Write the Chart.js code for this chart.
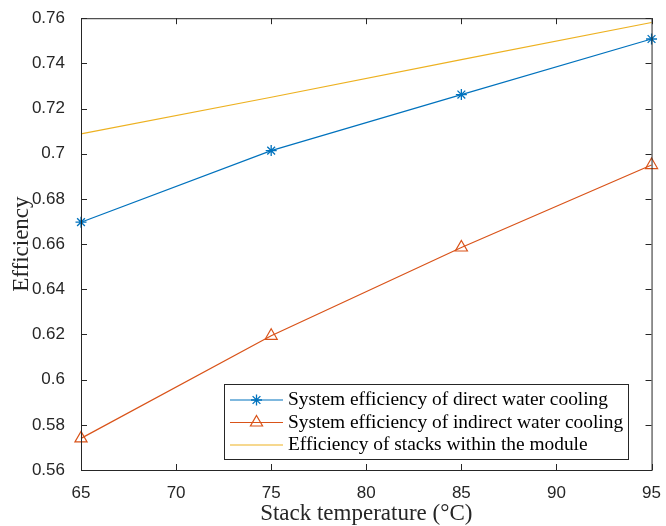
<!DOCTYPE html>
<html>
<head>
<meta charset="utf-8">
<script src="https://cdn.jsdelivr.net/npm/chart.js@4.4.1/dist/chart.umd.min.js"></script>
<style>
  html, body { margin: 0; padding: 0; background: #fff; }
  #wrap { width: 666px; height: 526px; }
</style>
</head>
<body>
<div id="wrap"><canvas id="effChart" width="666" height="526"></canvas></div>
<script>
// stack temperature (°C) and efficiency of each configuration
const temperatures = [65, 75, 85, 95];
const directCooling = [0.6697, 0.7014, 0.7262, 0.7508];
const indirectCooling = [0.5740, 0.6194, 0.6585, 0.6950];
const stackEfficiency = [0.7088, 0.7250, 0.7417, 0.7581];

const seriesLabels = [
  'System efficiency of direct water cooling',
  'System efficiency of indirect water cooling',
  'Efficiency of stacks within the module'
];

const xTickValues = [65, 70, 75, 80, 85, 90, 95];
const yTickValues = [0.56, 0.58, 0.6, 0.62, 0.64, 0.66, 0.68, 0.7, 0.72, 0.74, 0.76];

const axisColor = '#262626';
const blue = '#0072BD';
const orange = '#D95319';
const yellow = '#EDB120';

function toPoints(values) {
  return temperatures.map((t, i) => ({ x: t, y: values[i] }));
}

// axes box with inward tick marks on all four sides
const boxAndTicks = {
  id: 'boxAndTicks',
  afterDatasetsDraw(chart) {
    const { ctx, chartArea: a, scales: { x, y } } = chart;
    const len = 6;
    ctx.save();
    ctx.strokeStyle = axisColor;
    ctx.lineWidth = 1;
    ctx.beginPath();
    xTickValues.forEach(v => {
      const px = Math.round(x.getPixelForValue(v)) + 0.5;
      ctx.moveTo(px, a.bottom); ctx.lineTo(px, a.bottom - len);
      ctx.moveTo(px, a.top); ctx.lineTo(px, a.top + len);
    });
    yTickValues.forEach(v => {
      const py = Math.round(y.getPixelForValue(v)) + 0.5;
      ctx.moveTo(a.left, py); ctx.lineTo(a.left + len, py);
      ctx.moveTo(a.right, py); ctx.lineTo(a.right - len, py);
    });
    ctx.stroke();
    ctx.strokeRect(a.left + 0.5, a.top + 0.5, a.right - a.left, a.bottom - a.top);
    ctx.restore();
  }
};

// boxed legend sitting inside the plot, lower right
const boxedLegend = {
  id: 'boxedLegend',
  afterDraw(chart) {
    const { ctx } = chart;
    const bx = 224.5, by = 384.5, bw = 404, bh = 75;
    const rows = [400, 422.5, 445];
    ctx.save();
    ctx.fillStyle = '#fff';
    ctx.fillRect(bx, by, bw, bh);
    ctx.strokeStyle = axisColor;
    ctx.lineWidth = 1;
    ctx.strokeRect(bx, by, bw, bh);
    chart.data.datasets.forEach((ds, i) => {
      const ry = rows[i];
      ctx.strokeStyle = ds.borderColor;
      ctx.lineWidth = ds.borderWidth;
      ctx.beginPath();
      ctx.moveTo(230, ry);
      ctx.lineTo(283, ry);
      ctx.stroke();
      if (ds.pointRadius > 0) {
        ctx.fillStyle = ds.pointBackgroundColor;
        ctx.strokeStyle = ds.borderColor;
        ctx.lineWidth = ds.pointBorderWidth;
        Chart.helpers.drawPoint(ctx, {
          pointStyle: ds.pointStyle,
          radius: ds.pointRadius,
          rotation: 0,
          borderWidth: ds.pointBorderWidth
        }, 256.5, ry);
      }
      ctx.fillStyle = '#000';
      ctx.font = '19.4px "Liberation Serif"';
      ctx.textBaseline = 'middle';
      ctx.textAlign = 'left';
      ctx.fillText(ds.label, 288, ry);
    });
    ctx.restore();
  }
};

new Chart(document.getElementById('effChart'), {
  type: 'line',
  data: {
    datasets: [
      {
        label: seriesLabels[0],
        data: toPoints(directCooling),
        borderColor: blue,
        borderWidth: 1.2,
        pointStyle: 'star',
        pointRadius: 5.5,
        pointBorderWidth: 1.3,
        pointBackgroundColor: blue,
        clip: false
      },
      {
        label: seriesLabels[1],
        data: toPoints(indirectCooling),
        borderColor: orange,
        borderWidth: 1.2,
        pointStyle: 'triangle',
        pointRadius: 7,
        pointBorderWidth: 1.2,
        pointBackgroundColor: 'rgba(0,0,0,0)',
        clip: false
      },
      {
        label: seriesLabels[2],
        data: toPoints(stackEfficiency),
        borderColor: yellow,
        borderWidth: 1.2,
        pointRadius: 0,
        clip: false
      }
    ]
  },
  options: {
    responsive: false,
    animation: false,
    events: [],
    layout: { padding: { top: 17, right: 11, bottom: 0, left: 0 } },
    plugins: {
      legend: { display: false },
      tooltip: { enabled: false }
    },
    scales: {
      x: {
        type: 'linear',
        min: 65,
        max: 95,
        afterBuildTicks: axis => { axis.ticks = xTickValues.map(v => ({ value: v })); },
        afterFit: axis => { axis.height = 56; },
        grid: { display: false },
        border: { display: false },
        ticks: {
          autoSkip: false,
          maxRotation: 0,
          padding: 5,
          color: axisColor,
          font: { family: 'Liberation Sans', size: 17 },
          callback: v => String(v)
        },
        title: {
          display: true,
          text: 'Stack temperature (°C)',
          color: axisColor,
          font: { family: 'Liberation Serif', size: 23, lineHeight: 1 },
          padding: { top: 0, bottom: 0.5 }
        }
      },
      y: {
        min: 0.56,
        max: 0.76,
        afterBuildTicks: axis => { axis.ticks = yTickValues.map(v => ({ value: v })); },
        afterFit: axis => { axis.width = 81; },
        grid: { display: false },
        border: { display: false },
        ticks: {
          autoSkip: false,
          padding: 8,
          color: axisColor,
          font: { family: 'Liberation Sans', size: 17 },
          callback: v => String(+v.toFixed(2))
        },
        title: {
          display: true,
          text: 'Efficiency',
          color: axisColor,
          font: { family: 'Liberation Serif', size: 23, lineHeight: 1 },
          padding: { top: 10.5, bottom: 0 }
        }
      }
    }
  },
  plugins: [boxAndTicks, boxedLegend]
});
</script>
</body>
</html>
